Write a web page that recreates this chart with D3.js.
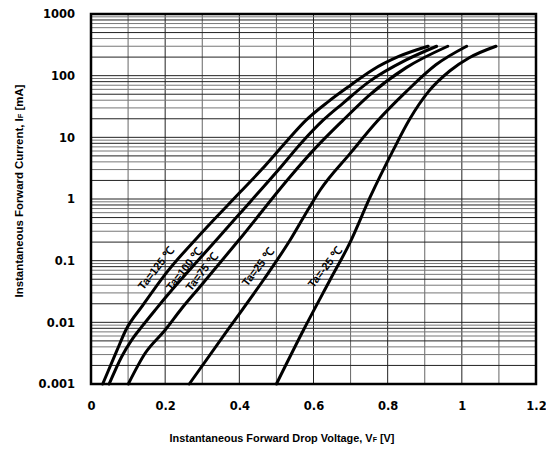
<!DOCTYPE html>
<html>
<head>
<meta charset="utf-8">
<title>Instantaneous Forward Current vs Forward Drop Voltage</title>
<script src="https://d3js.org/d3.v7.min.js"></script>
<style>
  body { margin: 0; background: #fff; }
  svg { display: block; font-family: Arial, "Liberation Sans", sans-serif; }
  .tick text { font-family: "DejaVu Sans", sans-serif; font-size: 11.5px; font-weight: bold; fill: #000; }
  .title { font-size: 10.9px; font-weight: bold; fill: #000; }
  .ytitle { font-size: 11.4px; }
  .lbl { font-size: 11px; font-weight: bold; fill: #000; }
</style>
</head>
<body>
<svg width="546" height="452"></svg>
<script>
// axis ticks
var vTicks = [0, 0.2, 0.4, 0.6, 0.8, 1, 1.2];
var iTicks = [0.001, 0.01, 0.1, 1, 10, 100, 1000];
var iTickText = ["0.001", "0.01", "0.1", "1", "10", "100", "1000"];

// curves, [VF (V), IF (mA)]
var ta125 = [[0.0315, 0.001], [0.07, 0.0035], [0.094, 0.0075], [0.14, 0.019], [0.2, 0.06],
             [0.3, 0.29], [0.4, 1.25], [0.46, 3], [0.53, 9], [0.58, 19], [0.64, 38],
             [0.70, 70], [0.76, 125], [0.83, 205], [0.909, 300]];
var ta100 = [[0.049, 0.001], [0.083, 0.0028], [0.11, 0.0052], [0.137, 0.0085], [0.173, 0.0158],
             [0.218, 0.0334], [0.3, 0.12], [0.4, 0.57], [0.505, 2.95], [0.57, 8.5],
             [0.626, 19], [0.68, 36], [0.75, 80], [0.85, 180], [0.932, 300]];
var ta75 = [[0.1006, 0.001], [0.146, 0.00315], [0.2, 0.0075], [0.245, 0.0169], [0.294, 0.0378],
            [0.4, 0.22], [0.537, 2.3], [0.6, 6.2], [0.68, 19], [0.75, 48], [0.85, 135],
            [0.962, 300]];
var ta25 = [[0.265, 0.001], [0.375, 0.0085], [0.465, 0.0486], [0.537, 0.216], [0.59, 0.75],
            [0.618, 1.4], [0.699, 5.5], [0.771, 18], [0.85, 55], [0.93, 150], [1.013, 300]];
var taM25 = [[0.5, 0.001], [0.573, 0.0075], [0.6445, 0.0486], [0.699, 0.2], [0.752, 1.05],
             [0.815, 6.2], [0.86, 20], [0.91, 55], [0.968, 120], [1.02, 195], [1.092, 300]];

var curves = [ta125, ta100, ta75, ta25, taM25];
var curveNames = ["Ta=125 \u2103", "Ta=100 \u2103", "Ta=75 \u2103", "Ta=25 \u2103", "Ta=-25 \u2103"];
var nameAt = [[0.175, 0.076], [0.251, 0.073], [0.2985, 0.066], [0.45, 0.079], [0.631, 0.079]];

var svg = d3.select("svg"),
    ml = 91, mt = 14, w = 445, h = 370;

var x = d3.scaleLinear().domain([0, 1.2]).range([ml, ml + w]);
var y = d3.scaleLog().domain([0.001, 1000]).range([mt + h, mt]);

// grid
var g = svg.append("g");
var vGrid = d3.range(1, 12).map(function(i) { return i / 10; });
g.selectAll(".vg").data(vGrid).enter().append("line")
  .attr("x1", function(d) { return x(d); }).attr("x2", function(d) { return x(d); })
  .attr("y1", mt).attr("y2", mt + h)
  .attr("stroke", function(d, i) { return i % 2 ? "#222" : "#666"; })
  .attr("stroke-width", 1);

var hGrid = [];
iTicks.slice(0, 6).forEach(function(d) {
  for (var k = 1; k <= 9; k++) hGrid.push(d * k);
});
g.selectAll(".hg").data(hGrid).enter().append("line")
  .attr("x1", ml).attr("x2", ml + w)
  .attr("y1", function(d) { return y(d); }).attr("y2", function(d) { return y(d); })
  .attr("stroke", function(d, i) { return i % 9 == 0 ? "#222" : (i % 3 == 1 ? "#222" : "#777"); })
  .attr("stroke-width", 1);

// axes
var xAxis = svg.append("g")
  .attr("transform", "translate(0," + (mt + h) + ")")
  .call(d3.axisBottom(x).tickValues(vTicks).tickSize(0).tickPadding(18)
    .tickFormat(function(d) { return String(d); }));
xAxis.select(".domain").remove();

var yAxis = svg.append("g")
  .attr("transform", "translate(" + ml + ",0)")
  .call(d3.axisLeft(y).tickValues(iTicks).tickSize(0).tickPadding(16)
    .tickFormat(function(d, i) { return iTickText[i]; }));
yAxis.select(".domain").remove();

// curves
var line = d3.line()
  .x(function(d) { return x(d[0]); })
  .y(function(d) { return y(d[1]); })
  .curve(d3.curveMonotoneX);

svg.append("g").selectAll("path").data(curves).enter().append("path")
  .attr("d", line)
  .attr("fill", "none")
  .attr("stroke", "#000")
  .attr("stroke-width", 3)
  .attr("stroke-linecap", "round");

// frame
svg.append("rect")
  .attr("x", ml).attr("y", mt).attr("width", w).attr("height", h)
  .attr("fill", "none").attr("stroke", "#000").attr("stroke-width", 2.5);

// curve labels
svg.append("g").selectAll("text").data(curveNames).enter().append("text")
  .attr("class", "lbl")
  .attr("text-anchor", "middle")
  .attr("dy", "0.35em")
  .attr("transform", function(d, i) {
    return "translate(" + x(nameAt[i][0]) + "," + y(nameAt[i][1]) + ") rotate(-52)";
  })
  .text(function(d) { return d; });

// titles
var xt = svg.append("text").attr("class", "title")
  .attr("text-anchor", "middle")
  .attr("x", 282).attr("y", 442);
xt.append("tspan").text("Instantaneous Forward Drop Voltage, V");
xt.append("tspan").attr("font-size", "7px").text("F");
xt.append("tspan").text(" [V]");

var yt = svg.append("text").attr("class", "title ytitle")
  .attr("text-anchor", "middle")
  .attr("transform", "translate(23,191) rotate(-90)");
yt.append("tspan").text("Instantaneous Forward Current, I");
yt.append("tspan").attr("font-size", "7.5px").text("F");
yt.append("tspan").text(" [mA]");
</script>
</body>
</html>
